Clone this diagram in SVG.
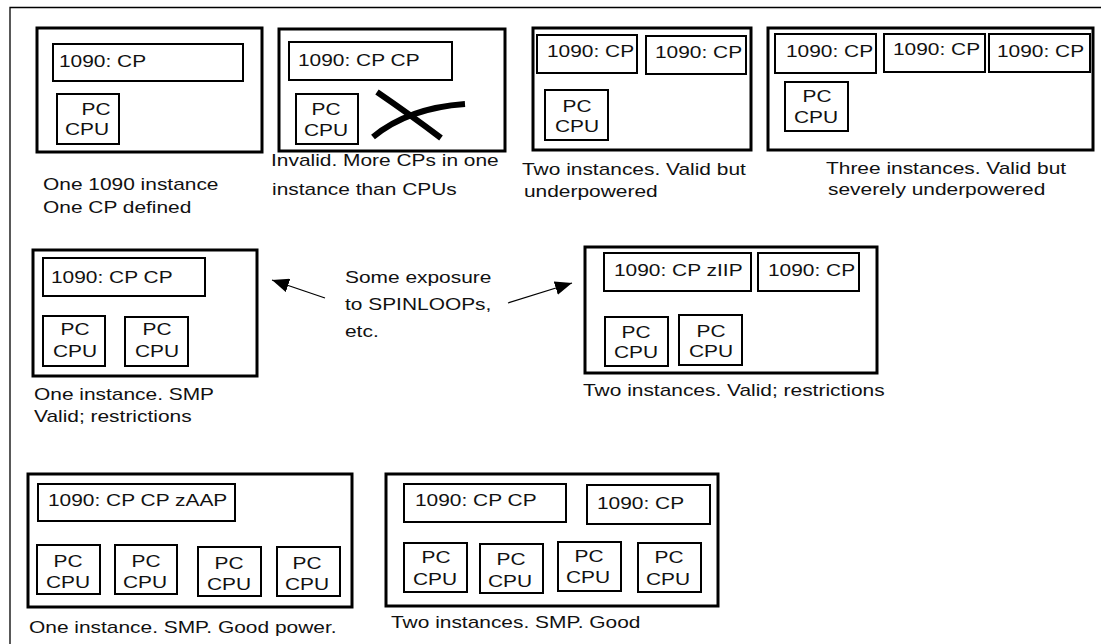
<svg xmlns="http://www.w3.org/2000/svg" width="1101" height="644" viewBox="0 0 1101 644">
<style>
text{font-family:"Liberation Sans",Arial,sans-serif;font-size:17px;fill:#111}
.c{text-anchor:middle}
.box{fill:none;stroke:#000;stroke-width:3}
.in{fill:none;stroke:#000;stroke-width:2}
.cn{fill:none;stroke:#000;stroke-width:1.3}
.x{fill:none;stroke:#000;stroke-width:6}
</style>
<defs>
<marker id="ah" markerUnits="userSpaceOnUse" markerWidth="18" markerHeight="14" refX="17" refY="7" orient="auto">
<path d="M0,0 L17,7 L0,14 Z" fill="#000"/>
</marker>
</defs>
<rect width="1101" height="644" fill="#fff"/>
<path d="M10,644 L10,7.5 L1101,7.5" fill="none" stroke="#000" stroke-width="1.3"/>

<g id="n1">
<rect class="box" x="37" y="28" width="225" height="124"/>
<rect class="in" x="53" y="44" width="190" height="37"/>
<text transform="matrix(1.23 0 0 1 59 67)">1090: CP</text>
<rect class="in" x="57" y="94" width="62" height="50"/>
<text class="c" transform="matrix(1.23 0 0 1 96 115)">PC</text>
<text class="c" transform="matrix(1.23 0 0 1 87 135)">CPU</text>
<text transform="matrix(1.23 0 0 1 43 190)">One 1090 instance</text>
<text transform="matrix(1.23 0 0 1 43 213)">One CP defined</text>
</g>

<g id="n2">
<rect class="box" x="279" y="29" width="226" height="122"/>
<rect class="in" x="289" y="42" width="163" height="38"/>
<text transform="matrix(1.23 0 0 1 298 66)">1090: CP CP</text>
<rect class="in" x="296" y="94" width="62" height="50"/>
<text class="c" transform="matrix(1.23 0 0 1 326 115)">PC</text>
<text class="c" transform="matrix(1.23 0 0 1 326 136)">CPU</text>
<path class="x" d="M377,92 Q412,116 441,138"/>
<path class="x" d="M373,137 Q408,108 465,104"/>
<text transform="matrix(1.23 0 0 1 271 166)">Invalid. More CPs in one</text>
<text transform="matrix(1.23 0 0 1 272 195)">instance than CPUs</text>
</g>

<g id="n3">
<rect class="box" x="533" y="28" width="218" height="122"/>
<rect class="in" x="537" y="35" width="100" height="38"/>
<text transform="matrix(1.23 0 0 1 547 57)">1090: CP</text>
<rect class="in" x="646" y="36" width="100" height="38"/>
<text transform="matrix(1.23 0 0 1 655 58)">1090: CP</text>
<rect class="in" x="545" y="90" width="63" height="50"/>
<text class="c" transform="matrix(1.23 0 0 1 577 112)">PC</text>
<text class="c" transform="matrix(1.23 0 0 1 577 132)">CPU</text>
<text transform="matrix(1.23 0 0 1 522 175)">Two instances. Valid but</text>
<text transform="matrix(1.23 0 0 1 524 197)">underpowered</text>
</g>

<g id="n4">
<rect class="box" x="768" y="28" width="325" height="122"/>
<rect class="in" x="775" y="34" width="101" height="39"/>
<text transform="matrix(1.23 0 0 1 786 57)">1090: CP</text>
<rect class="in" x="884" y="34" width="101" height="38"/>
<text transform="matrix(1.23 0 0 1 893 55)">1090: CP</text>
<rect class="in" x="989" y="34" width="101" height="38"/>
<text transform="matrix(1.23 0 0 1 997 57)">1090: CP</text>
<rect class="in" x="785" y="82" width="63" height="49"/>
<text class="c" transform="matrix(1.23 0 0 1 817 102)">PC</text>
<text class="c" transform="matrix(1.23 0 0 1 816 123)">CPU</text>
<text transform="matrix(1.23 0 0 1 826 174)">Three instances. Valid but</text>
<text transform="matrix(1.23 0 0 1 828 195)">severely underpowered</text>
</g>

<g id="n5">
<rect class="box" x="33" y="250" width="224" height="126"/>
<rect class="in" x="43" y="258" width="162" height="38"/>
<text transform="matrix(1.23 0 0 1 51 283)">1090: CP CP</text>
<rect class="in" x="43" y="316" width="62" height="50"/>
<text class="c" transform="matrix(1.23 0 0 1 75 335)">PC</text>
<text class="c" transform="matrix(1.23 0 0 1 75 357)">CPU</text>
<rect class="in" x="125" y="317" width="63" height="49"/>
<text class="c" transform="matrix(1.23 0 0 1 157 335)">PC</text>
<text class="c" transform="matrix(1.23 0 0 1 157 357)">CPU</text>
<text transform="matrix(1.23 0 0 1 34 400)">One instance. SMP</text>
<text transform="matrix(1.23 0 0 1 34 422)">Valid; restrictions</text>
</g>

<g id="note">
<text transform="matrix(1.23 0 0 1 345 283)">Some exposure</text>
<text transform="matrix(1.23 0 0 1 345 310)">to SPINLOOPs,</text>
<text transform="matrix(1.23 0 0 1 345 337)">etc.</text>
</g>

<g id="n6">
<rect class="box" x="585" y="247" width="292" height="126"/>
<rect class="in" x="604" y="253" width="147" height="38"/>
<text transform="matrix(1.23 0 0 1 614 276)">1090: CP zIIP</text>
<rect class="in" x="758" y="253" width="101" height="38"/>
<text transform="matrix(1.23 0 0 1 768 276)">1090: CP</text>
<rect class="in" x="605" y="317" width="63" height="49"/>
<text class="c" transform="matrix(1.23 0 0 1 636 338)">PC</text>
<text class="c" transform="matrix(1.23 0 0 1 636 358)">CPU</text>
<rect class="in" x="679" y="315" width="63" height="50"/>
<text class="c" transform="matrix(1.23 0 0 1 711 337)">PC</text>
<text class="c" transform="matrix(1.23 0 0 1 711 357)">CPU</text>
<text transform="matrix(1.23 0 0 1 583 396)">Two instances. Valid; restrictions</text>
</g>

<g id="n7">
<rect class="box" x="28" y="474" width="324" height="133"/>
<rect class="in" x="38" y="484" width="197" height="37"/>
<text transform="matrix(1.23 0 0 1 48 506)">1090: CP CP zAAP</text>
<rect class="in" x="37" y="545" width="63" height="49"/>
<text class="c" transform="matrix(1.23 0 0 1 68 567)">PC</text>
<text class="c" transform="matrix(1.23 0 0 1 68 588)">CPU</text>
<rect class="in" x="115" y="545" width="62" height="49"/>
<text class="c" transform="matrix(1.23 0 0 1 146 567)">PC</text>
<text class="c" transform="matrix(1.23 0 0 1 145 588)">CPU</text>
<rect class="in" x="198" y="547" width="63" height="49"/>
<text class="c" transform="matrix(1.23 0 0 1 229 569)">PC</text>
<text class="c" transform="matrix(1.23 0 0 1 229 590)">CPU</text>
<rect class="in" x="277" y="547" width="63" height="49"/>
<text class="c" transform="matrix(1.23 0 0 1 307 569)">PC</text>
<text class="c" transform="matrix(1.23 0 0 1 307 590)">CPU</text>
<text transform="matrix(1.23 0 0 1 29 633)">One instance. SMP.  Good power.</text>
</g>

<g id="n8">
<rect class="box" x="386" y="474" width="332" height="132"/>
<rect class="in" x="404" y="484" width="162" height="38"/>
<text transform="matrix(1.23 0 0 1 415 506)">1090: CP CP</text>
<rect class="in" x="587" y="485" width="123" height="39"/>
<text transform="matrix(1.23 0 0 1 597 509)">1090: CP</text>
<rect class="in" x="404" y="543" width="63" height="49"/>
<text class="c" transform="matrix(1.23 0 0 1 436 563)">PC</text>
<text class="c" transform="matrix(1.23 0 0 1 435 585)">CPU</text>
<rect class="in" x="480" y="544" width="63" height="49"/>
<text class="c" transform="matrix(1.23 0 0 1 511 565)">PC</text>
<text class="c" transform="matrix(1.23 0 0 1 510 587)">CPU</text>
<rect class="in" x="558" y="542" width="63" height="49"/>
<text class="c" transform="matrix(1.23 0 0 1 589 562)">PC</text>
<text class="c" transform="matrix(1.23 0 0 1 588 583)">CPU</text>
<rect class="in" x="638" y="543" width="63" height="49"/>
<text class="c" transform="matrix(1.23 0 0 1 669 563)">PC</text>
<text class="c" transform="matrix(1.23 0 0 1 668 585)">CPU</text>
<text transform="matrix(1.23 0 0 1 391 628)">Two instances. SMP. Good</text>
</g>

<g id="connectors">
<line class="cn" x1="325" y1="298" x2="272" y2="280" marker-end="url(#ah)"/>
<line class="cn" x1="508" y1="303" x2="572" y2="283" marker-end="url(#ah)"/>
</g>
</svg>
